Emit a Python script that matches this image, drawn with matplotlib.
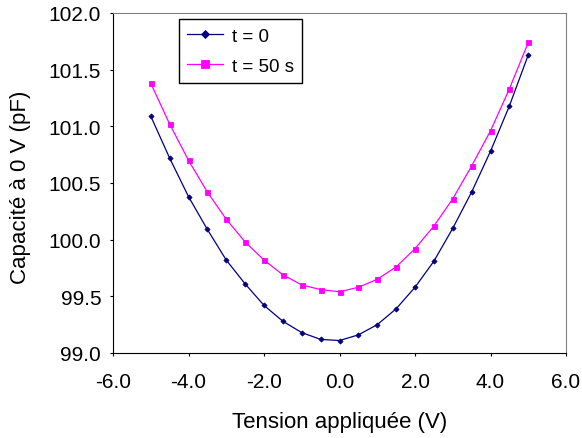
import matplotlib
matplotlib.use("Agg")
import matplotlib.pyplot as plt
import numpy as np
from matplotlib.ticker import FormatStrFormatter, MultipleLocator

plt.rcParams['font.family'] = ['Liberation Sans', 'DejaVu Sans']

# tension appliquée (V)
volts = [-5.0, -4.5, -4.0, -3.5, -3.0, -2.5, -2.0, -1.5, -1.0, -0.5, 0.0,
         0.5, 1.0, 1.5, 2.0, 2.5, 3.0, 3.5, 4.0, 4.5, 5.0]
# capacité à 0 V (pF)
cap_t0 = [101.09, 100.72, 100.38, 100.09, 99.82, 99.61, 99.42, 99.28, 99.18, 99.12, 99.11,
          99.16, 99.25, 99.39, 99.58, 99.81, 100.10, 100.42, 100.78, 101.18, 101.63]
cap_t50 = [101.38, 101.02, 100.70, 100.42, 100.18, 99.98, 99.82, 99.69, 99.60, 99.56, 99.54,
           99.58, 99.65, 99.76, 99.92, 100.12, 100.36, 100.65, 100.96, 101.33, 101.74]
labels = ["t = 0", "t = 50 s"]

fig = plt.figure(figsize=(5.82, 4.39), dpi=100)
ax = fig.add_axes([113 / 582, 1 - 354 / 439, 453 / 582, 340 / 439])

ax.plot(volts, cap_t0, color="#000080", lw=0.9, marker="D", ms=2.6, mew=0.6, label=labels[0])
ax.plot(volts, cap_t50, color="#FF00FF", lw=0.9, marker="s", ms=3.6, mew=0.6, label=labels[1])

ax.set_xlim(-6, 6)
ax.set_ylim(99, 102)
ax.xaxis.set_major_locator(MultipleLocator(2))
ax.yaxis.set_major_locator(MultipleLocator(0.5))
ax.xaxis.set_major_formatter(FormatStrFormatter("%.1f"))
ax.yaxis.set_major_formatter(FormatStrFormatter("%.1f"))
ax.tick_params(direction="out", length=2.5, labelsize=15, width=0.8)
ax.tick_params(axis="x", pad=11)
ax.tick_params(axis="y", pad=6)

for s in ["top", "right"]:
    ax.spines[s].set_color("#808080")

ax.set_xlabel("Tension appliquée (V)", fontsize=16)
ax.set_ylabel("Capacité à 0 V (pF)", fontsize=16)
ax.xaxis.set_label_coords(0.5, (354 - 428) / 340, transform=ax.transAxes)
ax.yaxis.set_label_coords((31 - 113) / 453, 0.49, transform=ax.transAxes)
ax.xaxis.label.set_va("baseline")

leg = ax.legend(loc="upper left", bbox_to_anchor=(66 / 453, 1 - 6 / 340), fontsize=13.5,
                frameon=True, fancybox=False, edgecolor="black", framealpha=1,
                handlelength=1.9, handletextpad=0.45, borderpad=0.45,
                labelspacing=0.7, borderaxespad=0, markerscale=1.6)
leg.get_frame().set_linewidth(1)

fig.savefig("out.png", dpi=100)
